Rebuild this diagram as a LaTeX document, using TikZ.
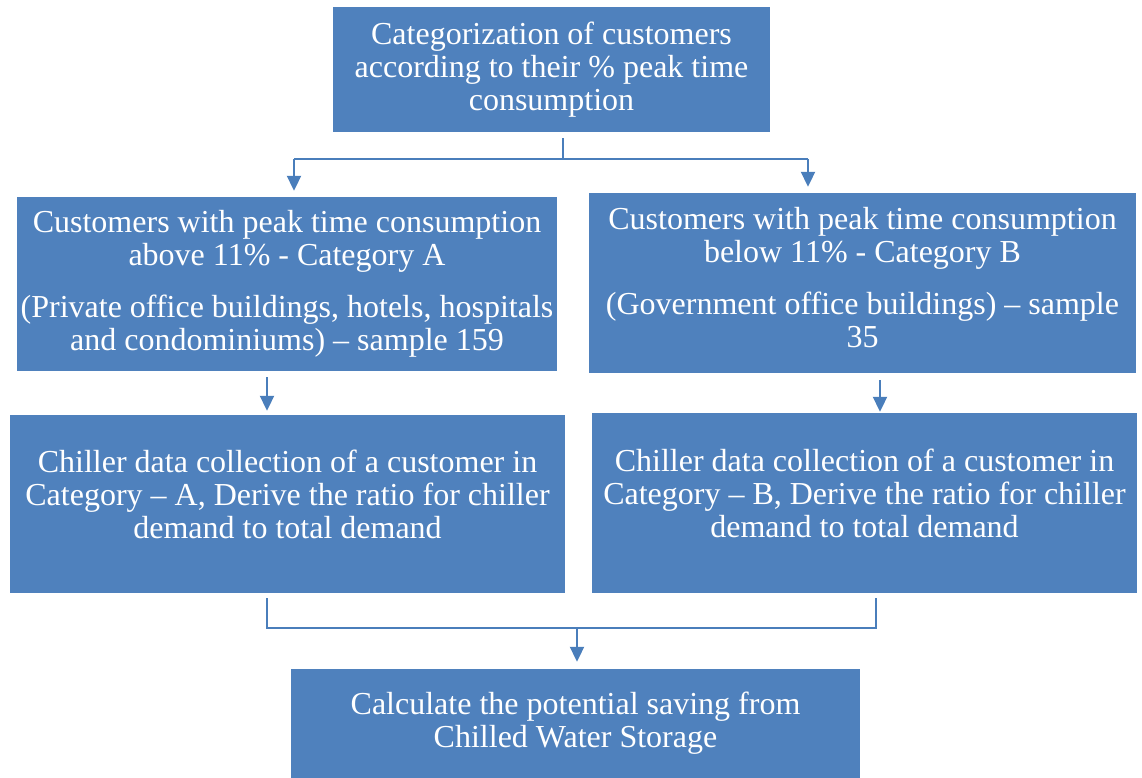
\documentclass[tikz,border=0pt]{standalone}
\usepackage{fontspec}
\setmainfont{Liberation Serif}
\usetikzlibrary{arrows.meta}
\definecolor{boxblue}{HTML}{4F81BD}
\definecolor{lineblue}{HTML}{4A7EBB}
\tikzset{
  stepbox/.style={fill=boxblue, text=white, align=center, inner sep=0pt,
    font=\fontsize{32}{33}\selectfont},
  link/.style={draw=lineblue, line width=2pt},
  flow/.style={link, -{Triangle[width=14pt,length=15pt]}}
}
\begin{document}
\begin{tikzpicture}[x=1pt,y=-1pt]
\useasboundingbox (0,0) rectangle (1142,778);

\node[stepbox, minimum width=437pt, minimum height=125pt] (top) at (551.5,69.5)
  {Categorization of customers\\according to their \% peak time\\consumption};

\node[stepbox, minimum width=540pt, minimum height=174pt] (catA) at (287,284)
  {Customers with peak time consumption\\above 11\% - Category A\\[19pt]
   (Private office buildings, hotels, hospitals\\and condominiums) – sample 159};
\node[stepbox, minimum width=547pt, minimum height=180pt, text depth=11pt] (catB) at (862.5,283)
  {Customers with peak time consumption\\below 11\% - Category B\\[19pt]
   (Government office buildings) – sample\\35};

\node[stepbox, minimum width=555pt, minimum height=178pt, text depth=20pt] (chilA) at (287.5,504)
  {Chiller data collection of a customer in\\Category – A, Derive the ratio for chiller\\demand to total demand};
\node[stepbox, minimum width=545pt, minimum height=180pt, text depth=20pt] (chilB) at (864.5,503)
  {Chiller data collection of a customer in\\Category – B, Derive the ratio for chiller\\demand to total demand};

\node[stepbox, minimum width=569pt, minimum height=109pt] (save) at (575.5,723.5)
  {Calculate the potential saving from\\Chilled Water Storage};

\coordinate (fork) at (563,159);
\coordinate (forkA) at (294,159);
\coordinate (forkB) at (808,159);
\draw[link, shorten <=6pt] (fork |- top.south) -- (fork);
\draw[link] (forkA) -- (forkB);
\draw[flow, shorten >=6pt] (forkA) -- (forkA |- catA.north);
\draw[flow, shorten >=6pt] (forkB) -- (forkB |- catB.north);

\coordinate (xa) at (267,0);
\coordinate (xb) at (880,0);
\coordinate (xd) at (876,0);
\draw[flow, shorten <=6pt, shorten >=4pt] (xa |- catA.south) -- (xa |- chilA.north);
\draw[flow, shorten <=7pt, shorten >=1pt] (xb |- catB.south) -- (xb |- chilB.north);

\coordinate (join) at (577,628);
\draw[link, shorten <=5pt, shorten >=5pt] (xa |- chilA.south) |- (join) -| (xd |- chilB.south);
\draw[flow, shorten >=7pt] (join) -- (join |- save.north);
\end{tikzpicture}
\end{document}
